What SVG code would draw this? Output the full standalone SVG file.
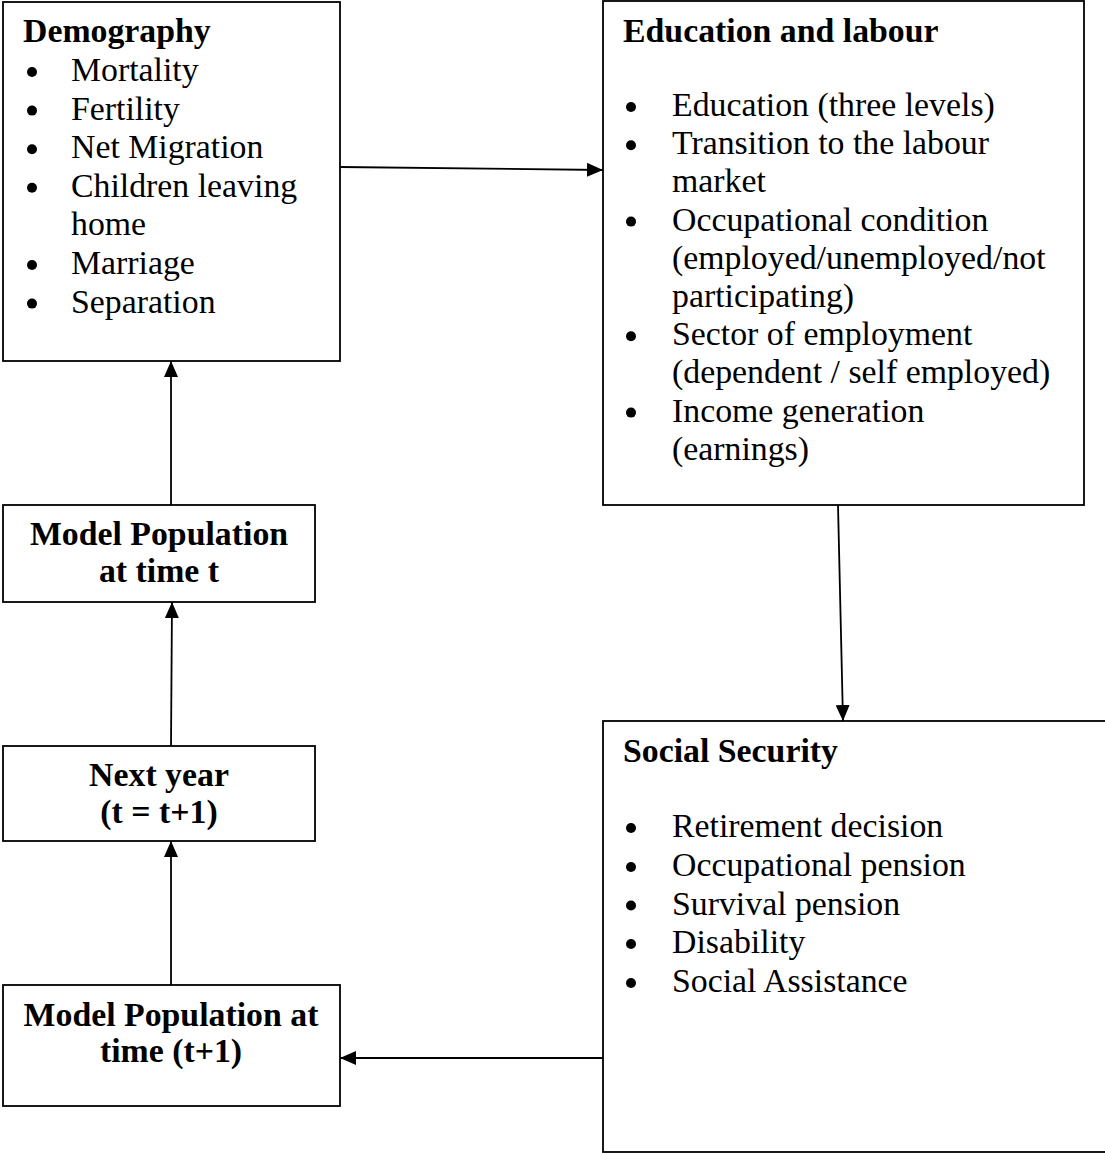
<svg xmlns="http://www.w3.org/2000/svg" width="1105" height="1153" viewBox="0 0 1105 1153">
<style>
.box{fill:#fff;stroke:#000;stroke-width:1.8}
.t{font-family:"Liberation Serif","Times New Roman",serif;font-size:33.8px;fill:#000}
.b{font-weight:bold}
.c{text-anchor:middle}
.dot{fill:#000}
.conn{stroke:#000;stroke-width:1.8;fill:none;marker-end:url(#ah)}
</style>
<defs>
<marker id="ah" markerUnits="userSpaceOnUse" markerWidth="16" markerHeight="14" refX="16" refY="7" orient="auto">
<path d="M0,0 L16,7 L0,14 z" fill="#000"/>
</marker>
</defs>
<rect width="1105" height="1153" fill="#fff"/>
<g id="connectors">
<line class="conn" x1="340" y1="167" x2="603" y2="170"/>
<line class="conn" x1="838" y1="505" x2="843" y2="721"/>
<line class="conn" x1="603" y1="1058" x2="340" y2="1058"/>
<line class="conn" x1="171" y1="985" x2="171" y2="841"/>
<line class="conn" x1="171" y1="746" x2="172" y2="602"/>
<line class="conn" x1="171" y1="505" x2="171" y2="361"/>
</g>
<g id="demography">
<rect class="box" x="3" y="2" width="337" height="359"/>
<text class="t b" x="23" y="42">Demography</text>
<circle class="dot" cx="32" cy="72" r="5"/><text class="t" x="71" y="81">Mortality</text>
<circle class="dot" cx="32" cy="110.6" r="5"/><text class="t" x="71" y="119.6">Fertility</text>
<circle class="dot" cx="32" cy="149.2" r="5"/><text class="t" x="71" y="158.2">Net Migration</text>
<circle class="dot" cx="32" cy="187.8" r="5"/><text class="t" x="71" y="196.8">Children leaving</text>
<text class="t" x="71" y="235.4">home</text>
<circle class="dot" cx="32" cy="265" r="5"/><text class="t" x="71" y="274">Marriage</text>
<circle class="dot" cx="32" cy="303.6" r="5"/><text class="t" x="71" y="312.6">Separation</text>
</g>
<g id="education">
<rect class="box" x="603" y="1" width="481" height="504"/>
<text class="t b" x="623" y="42">Education and labour</text>
<circle class="dot" cx="631" cy="107" r="5"/><text class="t" x="672" y="116">Education (three levels)</text>
<circle class="dot" cx="631" cy="145.2" r="5"/><text class="t" x="672" y="154.2">Transition to the labour</text>
<text class="t" x="672" y="192.4">market</text>
<circle class="dot" cx="631" cy="221.6" r="5"/><text class="t" x="672" y="230.6">Occupational condition</text>
<text class="t" x="672" y="268.8">(employed/unemployed/not</text>
<text class="t" x="672" y="307">participating)</text>
<circle class="dot" cx="631" cy="336.2" r="5"/><text class="t" x="672" y="345.2">Sector of employment</text>
<text class="t" x="672" y="383.4">(dependent / self employed)</text>
<circle class="dot" cx="631" cy="412.6" r="5"/><text class="t" x="672" y="421.6">Income generation</text>
<text class="t" x="672" y="459.8">(earnings)</text>
</g>
<g id="model-pop-t">
<rect class="box" x="3" y="505" width="312" height="97"/>
<text class="t b c" x="159" y="545">Model Population</text>
<text class="t b c" x="159" y="582">at time t</text>
</g>
<g id="next-year">
<rect class="box" x="3" y="746" width="312" height="95"/>
<text class="t b c" x="159" y="786">Next year</text>
<text class="t b c" x="159" y="823">(t = t+1)</text>
</g>
<g id="model-pop-t1">
<rect class="box" x="3" y="985" width="337" height="121"/>
<text class="t b c" x="171" y="1026">Model Population at</text>
<text class="t b c" x="171" y="1062">time (t+1)</text>
</g>
<g id="social-security">
<rect class="box" x="603" y="721" width="520" height="431"/>
<text class="t b" x="623" y="762">Social Security</text>
<circle class="dot" cx="631" cy="828" r="5"/><text class="t" x="672" y="837">Retirement decision</text>
<circle class="dot" cx="631" cy="867" r="5"/><text class="t" x="672" y="876">Occupational pension</text>
<circle class="dot" cx="631" cy="905.5" r="5"/><text class="t" x="672" y="914.5">Survival pension</text>
<circle class="dot" cx="631" cy="944" r="5"/><text class="t" x="672" y="953">Disability</text>
<circle class="dot" cx="631" cy="983" r="5"/><text class="t" x="672" y="992">Social Assistance</text>
</g>
</svg>
